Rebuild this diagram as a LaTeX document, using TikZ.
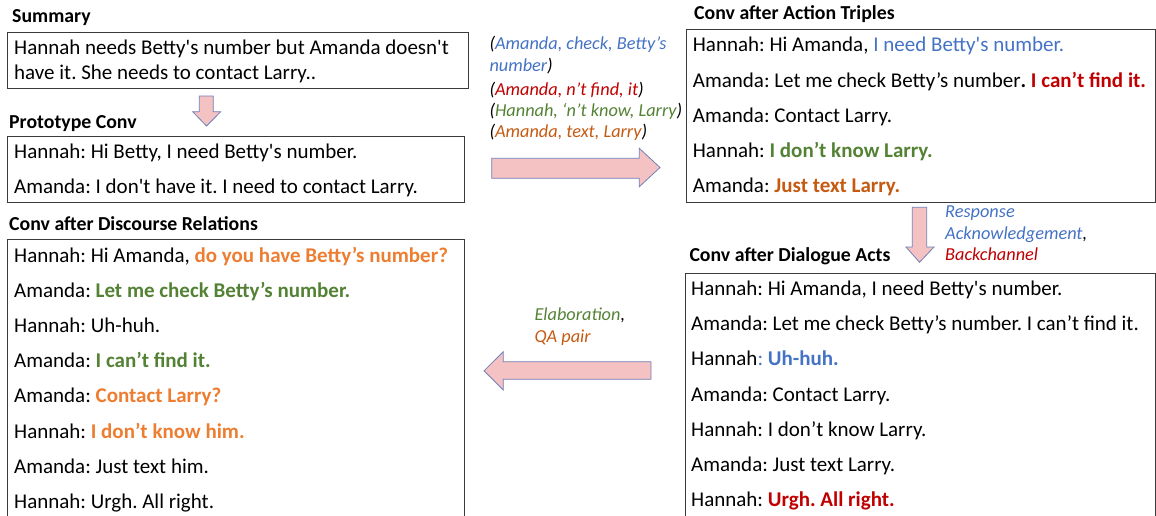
\documentclass[tikz,border=0pt]{standalone}
\usepackage{fontspec}
\newfontfamily\calib{Carlito}
\frenchspacing
\definecolor{tblue}{HTML}{4472C4}
\definecolor{tred}{HTML}{C00000}
\definecolor{tgreen}{HTML}{548235}
\definecolor{tbrown}{HTML}{C55A11}
\definecolor{torange}{HTML}{ED7D31}
\definecolor{arrfill}{HTML}{F4C2C2}
\definecolor{arrline}{HTML}{7080B8}
\definecolor{boxline}{HTML}{3A3A3A}
\begin{document}
\begin{tikzpicture}[x=1pt,y=-1pt,
  line/.style={anchor=base west, inner sep=0pt, font=\calib\fontsize{21}{25}\selectfont},
  head/.style={anchor=base west, inner sep=0pt, font=\calib\bfseries\fontsize{19.8}{23}\selectfont},
  note/.style={anchor=base west, inner sep=0pt, font=\calib\itshape\fontsize{18.3}{22}\selectfont},
  frame/.style={draw=boxline, line width=1pt},
  blockarrow/.style={fill=arrfill, draw=arrline, line width=0.8pt, line join=miter}]
\useasboundingbox (0,0) rectangle (1156,515);

% ---- Summary ----
\node[head] (tSum) at (12,22.5) {Summary};
\draw[frame] (7.5,32) rectangle (468,88.5);
\node[line] (s1) at (14,54) {Hannah needs Betty's number but Amanda doesn't};
\node[line] (s2) at (14,79) {have it. She needs to contact Larry..};

% summary -> prototype
\draw[blockarrow] (199.3,96) -- (213.3,96) -- (213.3,111.7) -- (220.7,111.7)
  -- (206.5,126) -- (192.7,111.7) -- (199.3,111.7) -- cycle;

% ---- Prototype conversation ----
\node[head] (tPro) at (9,128) {Prototype Conv};
\draw[frame] (7.5,136) rectangle (464.5,202.5);
\node[line] (p1) at (14,158.3) {Hannah: Hi Betty, I need Betty's number.};
\node[line] (p2) at (14,193.3) {Amanda: I don't have it. I need to contact Larry.};

% ---- Action triples ----
\node[note] (a1) at (489.3,49.3) {(\textcolor{tblue}{Amanda, check, Betty’s}};
\node[note] (a2) at (489.3,71) {\textcolor{tblue}{number})};
\node[note] (a3) at (489.3,95) {(\textcolor{tred}{Amanda, n’t find, it})};
\node[note] (a4) at (489.3,116.7) {(\textcolor{tgreen}{Hannah, ‘n’t know, Larry})};
\node[note] (a5) at (489.3,137.7) {(\textcolor{tbrown}{Amanda, text, Larry})};

\draw[blockarrow] (491.7,158.3) -- (639.3,158.3) -- (639.3,148.3) -- (660,167.5)
  -- (639.3,186.7) -- (639.3,178.3) -- (491.7,178.3) -- cycle;

% ---- Conversation after action triples ----
\node[head] (tAct) at (694,19) {Conv after Action Triples};
\draw[frame] (686.5,29.5) rectangle (1155.5,202.5);
\node[line] (c1) at (692.7,51.7) {Hannah: Hi Amanda, \textcolor{tblue}{I need Betty's number.}};
\node[line] (c2) at (692.7,87.3) {Amanda: Let me check Betty’s number\textbf{.} \textcolor{tred}{\textbf{I can’t find it.}}};
\node[line] (c3) at (692.7,122.7) {Amanda: Contact Larry.};
\node[line] (c4) at (692.7,157.7) {Hannah: \textcolor{tgreen}{\textbf{I don’t know Larry.}}};
\node[line] (c5) at (692.7,192.7) {Amanda: \textcolor{tbrown}{\textbf{Just text Larry.}}};

% action triples -> dialogue acts
\draw[blockarrow] (912.3,207.3) -- (926.7,207.3) -- (926.7,247) -- (934,247)
  -- (919.5,262.3) -- (906,247) -- (912.3,247) -- cycle;
\node[note] (d1) at (945,217) {\textcolor{tblue}{Response}};
\node[note] (d2) at (945,239) {\textcolor{tblue}{Acknowledgement},};
\node[note] (d3) at (945,260) {\textcolor{tred}{Backchannel}};

% ---- Conversation after dialogue acts ----
\node[head] (tDia) at (689.3,261) {Conv after Dialogue Acts};
\draw[frame] (685,520) -- (685,273.3) -- (1155.5,273.3) -- (1155.5,520);
\node[line] (e1) at (691,295.7) {Hannah: Hi Amanda, I need Betty's number.};
\node[line] (e2) at (691,330.7) {Amanda: Let me check Betty’s number. I can’t find it.};
\node[line] (e3) at (691,365.7) {Hannah\textcolor{tblue}{: \textbf{Uh-huh.}}};
\node[line] (e4) at (691,401) {Amanda: Contact Larry.};
\node[line] (e5) at (691,436) {Hannah: I don’t know Larry.};
\node[line] (e6) at (691,471.7) {Amanda: Just text Larry.};
\node[line] (e7) at (691,506.7) {Hannah: \textcolor{tred}{\textbf{Urgh. All right.}}};

% dialogue acts -> discourse relations
\draw[blockarrow] (651,361.7) -- (503.3,361.7) -- (503.3,351.7) -- (484,370.8)
  -- (503.3,390) -- (503.3,379.3) -- (651,379.3) -- cycle;
\node[note] (r1) at (534.3,320.7) {\textcolor{tgreen}{Elaboration},};
\node[note] (r2) at (534.3,342.7) {\textcolor{tbrown}{QA pair}};

% ---- Conversation after discourse relations ----
\node[head] (tDis) at (9,230.5) {Conv after Discourse Relations};
\draw[frame] (7.5,520) -- (7.5,239.5) -- (464.5,239.5) -- (464.5,520);
\node[line] (f1) at (14,262.3) {Hannah: Hi Amanda, \textcolor{torange}{\textbf{do you have Betty’s number?}}};
\node[line] (f2) at (14,297.4) {Amanda: \textcolor{tgreen}{\textbf{Let me check Betty’s number.}}};
\node[line] (f3) at (14,332.6) {Hannah: Uh-huh.};
\node[line] (f4) at (14,367.7) {Amanda: \textcolor{tgreen}{\textbf{I can’t find it.}}};
\node[line] (f5) at (14,402.9) {Amanda: \textcolor{torange}{\textbf{Contact Larry?}}};
\node[line] (f6) at (14,438) {Hannah: \textcolor{torange}{\textbf{I don’t know him.}}};
\node[line] (f7) at (14,473.2) {Amanda: Just text him.};
\node[line] (f8) at (14,508.3) {Hannah: Urgh. All right.};
\end{tikzpicture}
\end{document}
